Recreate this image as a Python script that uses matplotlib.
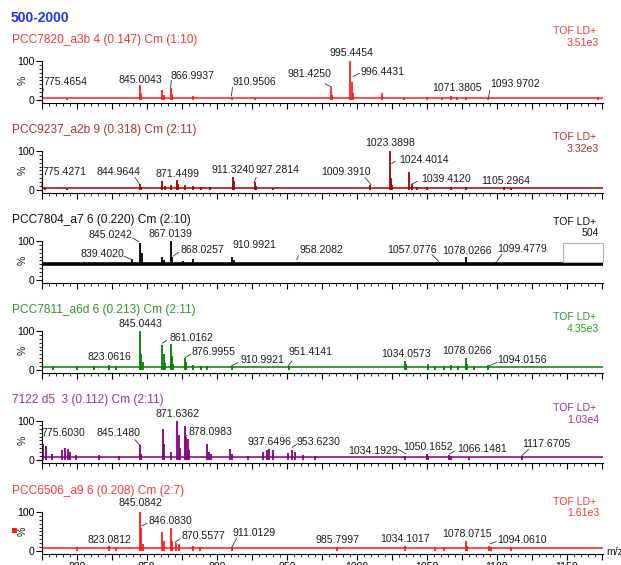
import matplotlib
matplotlib.use('Agg')
import matplotlib.pyplot as plt
from matplotlib.ticker import MultipleLocator, FixedLocator, NullFormatter, FuncFormatter
from matplotlib.patches import Rectangle

plt.rcParams['font.family'] = ['Liberation Sans', 'DejaVu Sans']

W, H = 621, 565  # размер картинки в пикселях

# ---------------- данные ----------------
header = '500-2000'
titles = ['PCC7820_a3b 4 (0.147) Cm (1:10)',
          'PCC9237_a2b 9 (0.318) Cm (2:11)',
          'PCC7804_a7 6 (0.220) Cm (2:10)',
          'PCC7811_a6d 6 (0.213) Cm (2:11)',
          '7122 d5  3 (0.112) Cm (2:11)',
          'PCC6506_a9 6 (0.208) Cm (2:7)']
mode = 'TOF LD+'
totals = ['3.51e3', '3.32e3', '504', '4.35e3', '1.03e4', '1.61e3']
baselines = [4, 5, 40, 8, 7, 8]  # уровень шума, %

mz1 = [775.5, 793, 845.0, 846.0, 861.0, 862.0, 867.0, 868.0, 883.0, 911.0, 927, 981.4, 982.4,
       995.4, 996.4, 997.4, 1017.8, 1034, 1050, 1061, 1067.5, 1071.4, 1078, 1094, 1172]
int1 = [10, 6, 38, 18, 25, 12, 30, 14, 10, 7, 6, 34, 12,
        100, 45, 18, 19, 7, 7, 8, 9, 7, 8, 6, 8]

mz2 = [775.4, 777, 793, 845.0, 846, 861.0, 863, 867, 871.4, 872.4, 877, 883, 889, 895, 911.3, 912.3,
       927.3, 928.3, 940, 1009.4, 1023.4, 1024.4, 1025.4, 1037.6, 1039.4, 1043, 1050, 1067, 1078,
       1105.3, 1110]
int2 = [12, 8, 6, 15, 8, 22, 10, 12, 25, 14, 12, 10, 8, 7, 34, 22,
        19, 10, 6, 13, 100, 30, 12, 46, 15, 8, 8, 7, 8,
        7, 6]

mz3 = [839.4, 845.0, 846.9, 861.0, 862.0, 867.0, 868.0, 876, 883, 911.0, 912, 958.2, 1057.1,
       1078.0, 1099.5]
int3 = [54, 95, 69, 58, 52, 100, 60, 48, 55, 58, 50, 45, 45,
        58, 45]

mz4 = [783, 800, 812, 823.1, 828, 845.0, 846.0, 847.0, 861.0, 862.0, 863.0, 867.0, 868.0, 869.0,
       877.0, 878.0, 883, 889, 893, 911.0, 951.4, 1034.1, 1035, 1050.7, 1056, 1062, 1067, 1072,
       1078.0, 1079, 1084, 1094.0]
int4 = [10, 10, 9, 12, 10, 100, 40, 20, 65, 40, 18, 67, 35, 15,
        30, 20, 12, 11, 10, 11, 9, 23, 14, 14, 10, 11, 12, 10,
        30, 14, 10, 12]

mz5 = [775.6, 777.9, 782, 789.3, 791.6, 793.6, 795, 799.5, 816, 830, 845.1, 846.1, 861.4, 862.4,
       867, 871.6, 872.9, 874, 877.4, 878.1, 879.3, 880.5, 893.3, 894.5, 896, 909.5, 911, 922,
       933.3, 935.7, 937.6, 940.5, 951.1, 953.6, 955.8, 961.7, 970, 1034.2, 1050.2, 1051,
       1066.1, 1067, 1080, 1117.7]
int5 = [40, 36, 15, 25, 30, 28, 20, 12, 12, 10, 38, 15, 80, 40,
        20, 100, 65, 30, 86, 60, 55, 25, 40, 20, 15, 28, 15, 10,
        20, 25, 28, 25, 18, 25, 20, 12, 9, 9, 15, 10,
        12, 9, 7, 9]

mz6 = [800, 823.1, 828, 845.1, 846.1, 847.1, 861.0, 862.0, 867.0, 868.0, 870.6, 873, 883, 888,
       911.0, 985.8, 1034.1, 1056, 1062, 1078.1, 1079, 1094.1, 1096, 1110]
int6 = [10, 12, 10, 100, 58, 18, 48, 25, 60, 25, 20, 18, 12, 11,
        10, 10, 12, 11, 10, 26, 12, 12, 10, 9]

labels1 = ['775.4654', '845.0043', '866.9937', '910.9506', '981.4250', '995.4454', '996.4431',
           '1071.3805', '1093.9702']
labels2 = ['775.4271', '844.9644', '871.4499', '911.3240', '927.2814', '1009.3910', '1023.3898',
           '1024.4014', '1039.4120', '1105.2964']
labels3 = ['845.0242', '867.0139', '839.4020', '868.0257', '910.9921', '958.2082', '1057.0776',
           '1078.0266', '1099.4779']
labels4 = ['845.0443', '861.0162', '823.0616', '876.9955', '910.9921', '951.4141', '1034.0573',
           '1078.0266', '1094.0156']
labels5 = ['871.6362', '775.6030', '845.1480', '878.0983', '937.6496', '953.6230', '1034.1929',
           '1050.1652', '1066.1481', '1117.6705']
labels6 = ['845.0842', '846.0830', '823.0812', '870.5577', '911.0129', '985.7997', '1034.1017',
           '1078.0715', '1094.0610']

# ---------------- раскладка подписей ----------------
# (x текста, y текста, выравнивание, выноска x1, y1, x2, y2 или None)
pos1 = [(776.3, 45, 'left', (776.1, 28, 775.3, 10)), (845.4, 52, 'center', None),
        (867.1, 61, 'left', (867.5, 50, 867.0, 31)), (911.4, 45, 'left', (911.2, 33, 910.5, 10)),
        (966.0, 67, 'center', (977.4, 41, 981.6, 34)), (996.1, 120, 'center', None),
        (1002.4, 72, 'left', (1001.8, 68, 997.3, 60)), (1071.8, 31, 'center', None),
        (1095.2, 41, 'left', (1095.0, 25, 1094.0, 6))]
pos2 = [(775.7, 47, 'left', (775.7, 28, 775.0, 10)), (829.8, 47, 'center', (841.6, 32, 845.2, 13)),
        (872.1, 41, 'center', None), (911.5, 50, 'center', None),
        (927.4, 50, 'left', (928.1, 32, 926.7, 19)), (992.1, 45, 'center', (1005.9, 32, 1010.2, 13)),
        (1023.8, 120, 'center', None), (1030.4, 78, 'left', (1027.4, 74, 1025.0, 68)),
        (1045.7, 28, 'left', (1043.3, 22, 1039.3, 15)), (1106.5, 22, 'center', None)]
pos3 = [(824.3, 115, 'center', (840.2, 107, 844.5, 98)), (867.2, 119, 'center', None),
        (818.4, 67, 'center', (833.9, 61, 839.4, 52)), (873.8, 76, 'left', (872.6, 71, 869.0, 61)),
        (927.0, 90, 'center', None), (974.5, 77, 'center', (958.3, 62, 957.1, 52)),
        (1039.5, 76, 'center', (1053.6, 65, 1058.4, 48)), (1078.6, 73, 'center', None),
        (1100.4, 79, 'left', (1103.6, 65, 1100.0, 48))]
pos4 = [(845.6, 119, 'center', None), (866.6, 82, 'left', (864.3, 76, 861.1, 69)),
        (823.1, 32, 'center', None), (882.1, 46, 'left', (881.4, 40, 877.4, 32)),
        (917.1, 26, 'left', (915.4, 19, 910.7, 11)), (951.1, 46, 'left', (953.6, 23, 951.1, 11)),
        (1034.9, 40, 'center', None), (1078.6, 48, 'center', None),
        (1100.4, 26, 'left', (1100.0, 19, 1094.7, 11))]
pos5 = [(871.8, 117, 'center', None), (775.0, 69, 'left', None),
        (829.7, 69, 'center', (841.6, 52, 845.2, 37)), (879.8, 72, 'left', (878.6, 63, 876.9, 57)),
        (937.7, 46, 'center', None), (957.0, 46, 'left', (957.0, 40, 954.0, 32)),
        (1011.3, 23, 'center', (1029.7, 27, 1035.2, 15)), (1051.0, 33, 'center', None),
        (1071.9, 27, 'left', (1069.5, 22, 1066.1, 15)), (1135.4, 42, 'center', (1122.6, 27, 1117.9, 11))]
pos6 = [(845.8, 122, 'center', None), (851.6, 77, 'left', (850.0, 71, 846.4, 64)),
        (823.1, 28, 'center', None), (875.0, 39, 'left', (873.8, 31, 870.2, 22)),
        (926.6, 45, 'center', (914.3, 33, 910.7, 9)), (986.3, 28, 'center', None),
        (1034.5, 30, 'center', None), (1078.6, 44, 'center', None),
        (1100.0, 28, 'left', (1099.5, 24, 1095.2, 18))]

panel_tops = [61, 151, 241, 331, 421, 512]       # пиксель уровня 100 %
tof_y = [30.7, 136.7, 221.7, 316.7, 408.3, 501.7]
tot_y = [42.7, 149.3, 233.3, 329.3, 420.0, 512.7]
line_colors = ['#ff2020', '#a00000', '#000000', '#008000', '#800080', '#ff1a1a']
text_colors = ['#f03a3a', '#a83232', '#111111', '#2e962e', '#993399', '#f43a3a']

spectra = [(mz1, int1), (mz2, int2), (mz3, int3), (mz4, int4), (mz5, int5), (mz6, int6)]
all_labels = [labels1, labels2, labels3, labels4, labels5, labels6]
all_pos = [pos1, pos2, pos3, pos4, pos5, pos6]

SMALL = 7.6
X0, X1 = 41.7, 603.3   # пиксели оси x
XMIN, XMAX = 775, 1176

fig = plt.figure(figsize=(W / 100, H / 100), dpi=100)


def fx(px):
    return px / W


def fy(py):
    return 1 - py / H


fig.text(fx(11), fy(18), header, color='#1f35f0', fontsize=10, fontweight='bold',
         ha='left', va='center')

for i in range(6):
    top = panel_tops[i]
    ax = fig.add_axes([fx(X0), fy(top + 42), (X1 - X0) / W, 42 / H])
    ax.set_xlim(XMIN, XMAX)
    ax.set_ylim(-8, 100)
    ax.patch.set_alpha(0)
    for side in ['top', 'right']:
        ax.spines[side].set_visible(False)
    for side in ['left', 'bottom']:
        ax.spines[side].set_linewidth(0.8)

    # спектр
    mz, inten = spectra[i]
    col = line_colors[i]
    lw_base = 2.6 if i == 2 else 1.1
    ax.plot([XMIN, XMAX], [baselines[i], baselines[i]], color=col, lw=lw_base, solid_capstyle='butt')
    ax.vlines(mz, 0 if i != 2 else baselines[i], inten, color=col, lw=1.3)

    # оси
    ax.xaxis.set_major_locator(MultipleLocator(25))
    ax.xaxis.set_minor_locator(MultipleLocator(5))
    ax.yaxis.set_major_locator(FixedLocator([0, 100]))
    ax.yaxis.set_minor_locator(FixedLocator(list(range(10, 100, 10))))
    ax.tick_params(axis='both', which='major', direction='out', length=4, width=0.8,
                   labelsize=SMALL, pad=1)
    ax.tick_params(axis='both', which='minor', direction='out', length=2, width=0.6)
    ax.set_yticklabels(['0', '100'])
    if i == 5:
        ax.xaxis.set_major_formatter(FuncFormatter(lambda v, p: '%d' % v if v % 50 == 0 else ''))
        ax.tick_params(axis='x', which='major', pad=1.5)
    else:
        ax.xaxis.set_major_formatter(NullFormatter())

    # подписи пиков
    for s, (tx, ty, ha, lead) in zip(all_labels[i], all_pos[i]):
        ax.text(tx, ty, s, ha=ha, va='center', fontsize=SMALL, color='#1c1c1c', clip_on=False)
        if lead is not None:
            ax.plot([lead[0], lead[2]], [lead[1], lead[3]], color='#333333', lw=0.6, clip_on=False)

    # заголовки
    fig.text(fx(12.5), fy(top - 21), titles[i], color=text_colors[i], fontsize=8.6,
             ha='left', va='center')
    fig.text(fx(596), fy(tof_y[i]), mode, color=text_colors[i], fontsize=SMALL, ha='right', va='center')
    fig.text(fx(599), fy(tot_y[i]), totals[i], color=text_colors[i], fontsize=SMALL, ha='right', va='center')
    fig.text(fx(23), fy(top + 19.5), '%', rotation=90, fontsize=SMALL, ha='center', va='center',
             color='#1c1c1c')

# пустая рамка на третьей панели
fig.patches.append(Rectangle((fx(563.3), fy(262)), 40 / W, 19 / H, transform=fig.transFigure,
                             fill=False, edgecolor='#b0b0b0', lw=0.8))
# красный маркер на последней панели
fig.patches.append(Rectangle((fx(12.3), fy(533)), 5 / W, 5 / H, transform=fig.transFigure,
                             facecolor='#ff1a1a', edgecolor='none'))
fig.text(fx(606), fy(551.7), 'm/z', fontsize=SMALL, ha='left', va='center', color='#1c1c1c')

plt.savefig('out.png', dpi=100)
